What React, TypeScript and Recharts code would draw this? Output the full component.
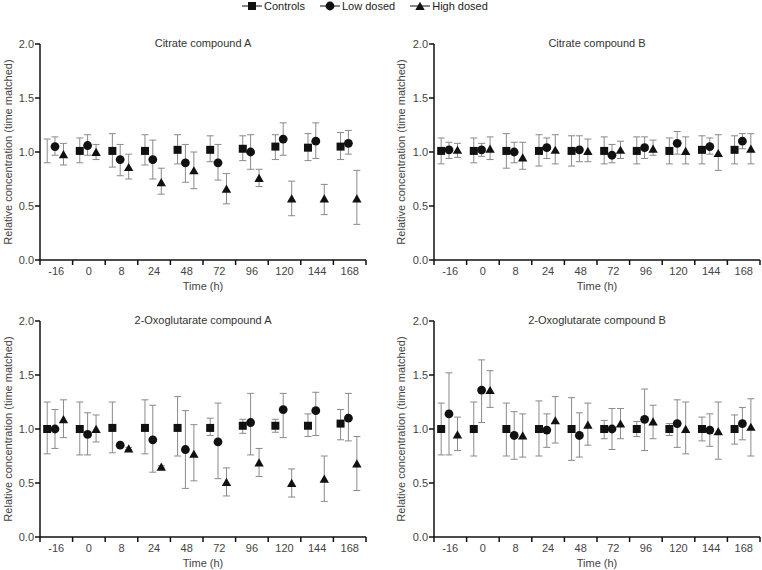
import { ScatterChart, Scatter, XAxis, YAxis, ErrorBar } from "recharts"

const FONT = "'Liberation Sans', Arial, sans-serif"

// time points (h) shown as categories
const timepoints = ["-16", "0", "8", "24", "48", "72", "96", "120", "144", "168"]
const yTicks = [0, 0.5, 1, 1.5, 2]

// Citrate compound A
const citrateA_ctrl = [1.01, 1.01, 1.01, 1.01, 1.02, 1.02, 1.03, 1.05, 1.04, 1.05]
const citrateA_ctrl_rng = [[0.9, 1.12], [0.9, 1.13], [0.86, 1.17], [0.88, 1.16], [0.89, 1.16], [0.91, 1.15], [0.92, 1.15], [0.93, 1.16], [0.92, 1.17], [0.93, 1.18]]
const citrateA_low = [1.05, 1.06, 0.93, 0.93, 0.9, 0.9, 1.0, 1.12, 1.1, 1.08]
const citrateA_low_rng = [[0.97, 1.14], [0.97, 1.16], [0.78, 1.07], [0.75, 1.11], [0.72, 1.07], [0.74, 1.07], [0.84, 1.16], [0.97, 1.27], [0.94, 1.27], [0.98, 1.2]]
const citrateA_high = [0.98, 1.0, 0.86, 0.72, 0.83, 0.66, 0.76, 0.57, 0.57, 0.57]
const citrateA_high_rng = [[0.88, 1.08], [0.93, 1.07], [0.75, 0.98], [0.61, 0.85], [0.66, 1.0], [0.52, 0.8], [0.68, 0.84], [0.41, 0.73], [0.42, 0.7], [0.33, 0.83]]

// Citrate compound B
const citrateB_ctrl = [1.01, 1.01, 1.01, 1.01, 1.01, 1.01, 1.01, 1.01, 1.02, 1.02]
const citrateB_ctrl_rng = [[0.89, 1.13], [0.9, 1.13], [0.85, 1.17], [0.87, 1.16], [0.87, 1.15], [0.89, 1.14], [0.89, 1.14], [0.89, 1.13], [0.89, 1.15], [0.89, 1.15]]
const citrateB_low = [1.02, 1.02, 1.0, 1.04, 1.02, 0.97, 1.04, 1.08, 1.05, 1.1]
const citrateB_low_rng = [[0.94, 1.09], [0.96, 1.08], [0.9, 1.09], [0.94, 1.13], [0.91, 1.15], [0.9, 1.07], [0.94, 1.14], [0.98, 1.19], [0.98, 1.13], [1.03, 1.17]]
const citrateB_high = [1.02, 1.03, 0.95, 1.02, 1.01, 1.02, 1.03, 1.01, 0.99, 1.03]
const citrateB_high_rng = [[0.95, 1.08], [0.93, 1.14], [0.84, 1.09], [0.89, 1.16], [0.91, 1.12], [0.94, 1.1], [0.97, 1.11], [0.89, 1.14], [0.83, 1.16], [0.89, 1.17]]

// 2-Oxoglutarate compound A
const oxoA_ctrl = [1.0, 1.0, 1.01, 1.01, 1.01, 1.01, 1.03, 1.03, 1.03, 1.05]
const oxoA_ctrl_rng = [[0.77, 1.25], [0.76, 1.25], [0.78, 1.25], [0.77, 1.27], [0.75, 1.3], [0.94, 1.1], [0.96, 1.09], [0.97, 1.09], [0.93, 1.14], [0.9, 1.18]]
const oxoA_low = [1.0, 0.95, 0.85, 0.9, 0.81, 0.88, 1.06, 1.18, 1.17, 1.1]
const oxoA_low_rng = [[0.82, 1.18], [0.76, 1.15], [0.84, 0.86], [0.6, 1.22], [0.45, 1.17], [0.54, 1.24], [0.76, 1.33], [0.92, 1.33], [0.94, 1.34], [0.89, 1.33]]
const oxoA_high = [1.09, 1.0, 0.82, 0.65, 0.77, 0.51, 0.69, 0.5, 0.54, 0.68]
const oxoA_high_rng = [[0.92, 1.27], [0.88, 1.13], [0.81, 0.83], [0.64, 0.66], [0.52, 1.04], [0.38, 0.64], [0.56, 0.82], [0.37, 0.63], [0.33, 0.75], [0.43, 0.93]]

// 2-Oxoglutarate compound B
const oxoB_ctrl = [1.0, 1.0, 1.0, 1.0, 1.0, 1.0, 1.0, 1.0, 1.0, 1.0]
const oxoB_ctrl_rng = [[0.76, 1.24], [0.75, 1.25], [0.75, 1.24], [0.75, 1.26], [0.71, 1.29], [0.91, 1.08], [0.93, 1.07], [0.94, 1.05], [0.89, 1.11], [0.86, 1.13]]
const oxoB_low = [1.14, 1.36, 0.94, 0.99, 0.94, 1.0, 1.09, 1.05, 0.99, 1.05]
const oxoB_low_rng = [[0.76, 1.52], [1.06, 1.64], [0.72, 1.16], [0.83, 1.14], [0.74, 1.15], [0.81, 1.19], [0.8, 1.37], [0.83, 1.27], [0.84, 1.14], [0.9, 1.2]]
const oxoB_high = [0.95, 1.36, 0.94, 1.08, 1.04, 1.05, 1.07, 1.0, 0.98, 1.02]
const oxoB_high_rng = [[0.8, 1.11], [1.2, 1.54], [0.74, 1.14], [0.87, 1.3], [0.85, 1.24], [0.91, 1.19], [0.91, 1.22], [0.77, 1.25], [0.72, 1.25], [0.75, 1.28]]

const SERIES = [
  { name: "Controls", shape: "square", shift: 0.22 },
  { name: "Low dosed", shape: "circle", shift: 0.46 },
  { name: "High dosed", shape: "triangle", shift: 0.72 },
]

const toPoints = (means: number[], rng: number[][], shift: number, hidden: number[]) =>
  means.map((m, i) => ({ x: i + shift, y: m, err: [m - rng[i][0], rng[i][1] - m], hidden: hidden.includes(i) }))

const PANELS = [
  {
    title: "Citrate compound A",
    data: [[citrateA_ctrl, citrateA_ctrl_rng], [citrateA_low, citrateA_low_rng], [citrateA_high, citrateA_high_rng]],
    // the -16 h control marker is not drawn in the original figure (only its error bar)
    hidden: [[0], [], []],
    left: 0, top: 30, yWidth: 40, margin: { top: 14, right: 15, bottom: 10, left: 0 }, labelOffset: 8,
  },
  {
    title: "Citrate compound B",
    data: [[citrateB_ctrl, citrateB_ctrl_rng], [citrateB_low, citrateB_low_rng], [citrateB_high, citrateB_high_rng]],
    hidden: [[], [], []],
    left: 381, top: 30, yWidth: 53, margin: { top: 14, right: 2, bottom: 10, left: 0 }, labelOffset: 20,
  },
  {
    title: "2-Oxoglutarate compound A",
    data: [[oxoA_ctrl, oxoA_ctrl_rng], [oxoA_low, oxoA_low_rng], [oxoA_high, oxoA_high_rng]],
    hidden: [[], [], []],
    left: 0, top: 300, yWidth: 40, margin: { top: 21, right: 15, bottom: 3, left: 0 }, labelOffset: 8,
  },
  {
    title: "2-Oxoglutarate compound B",
    data: [[oxoB_ctrl, oxoB_ctrl_rng], [oxoB_low, oxoB_low_rng], [oxoB_high, oxoB_high_rng]],
    hidden: [[], [], []],
    left: 381, top: 300, yWidth: 53, margin: { top: 21, right: 2, bottom: 3, left: 0 }, labelOffset: 20,
  },
]

const W = 381
const H = 270
const INK = "#111"
const TEXT = "#444"

function Marker({ kind, cx, cy }: { kind: string; cx: number; cy: number }) {
  if (kind === "square") return <rect x={cx - 4} y={cy - 4} width={8} height={8} fill={INK} />
  if (kind === "circle") return <circle cx={cx} cy={cy} r={4.4} fill={INK} />
  return <polygon points={`${cx - 4.7},${cy + 4} ${cx + 4.7},${cy + 4} ${cx},${cy - 4.2}`} fill={INK} />
}

function Panel({ p }: { p: (typeof PANELS)[number] }) {
  const plotW = W - p.margin.left - p.margin.right - p.yWidth
  const half = plotW / timepoints.length / 2

  const TimeTick = (props: any) => {
    const i = props.payload.value
    if (i >= timepoints.length) return null
    return (
      <text x={props.x + half} y={props.y} dy="0.71em" textAnchor="middle" fontSize={11} fill={TEXT}>
        {timepoints[i]}
      </text>
    )
  }

  return (
    <div style={{ position: "absolute", left: p.left, top: p.top, width: W, height: H }}>
      <ScatterChart width={W} height={H} margin={p.margin}>
        <XAxis
          type="number"
          dataKey="x"
          domain={[0, timepoints.length]}
          ticks={timepoints.map((_, i) => i).concat(timepoints.length)}
          interval={0}
          height={30}
          tickSize={5}
          tickMargin={2}
          axisLine={{ stroke: INK, strokeWidth: 1.5 }}
          tickLine={{ stroke: INK, strokeWidth: 1.5 }}
          tick={TimeTick}
          label={{ value: "Time (h)", position: "insideBottom", offset: 0, style: { fontSize: 11, fill: TEXT } }}
        />
        <YAxis
          type="number"
          dataKey="y"
          domain={[0, 2]}
          ticks={yTicks}
          width={p.yWidth}
          tickSize={5}
          tickMargin={1}
          tickFormatter={(v: number) => v.toFixed(1)}
          axisLine={{ stroke: INK, strokeWidth: 1.5 }}
          tickLine={{ stroke: INK, strokeWidth: 1.5 }}
          tick={{ fontSize: 11, fill: TEXT }}
          label={{
            value: "Relative concentration (time matched)",
            angle: -90,
            position: "insideLeft",
            offset: p.labelOffset,
            style: { textAnchor: "middle", fontSize: 11, fill: TEXT },
          }}
        />
        {SERIES.map((s, k) => (
          <Scatter
            key={s.name}
            name={s.name}
            data={toPoints(p.data[k][0] as number[], p.data[k][1] as number[][], s.shift, p.hidden[k])}
            isAnimationActive={false}
            shape={(props: any) =>
              props.payload?.hidden ? <g /> : <Marker kind={s.shape} cx={props.cx} cy={props.cy} />
            }
          >
            <ErrorBar dataKey="err" direction="y" width={3.5} stroke="#8a8a8a" strokeWidth={1} />
          </Scatter>
        ))}
      </ScatterChart>
      <div
        style={{
          position: "absolute",
          left: p.margin.left + p.yWidth + plotW / 2,
          top: p.margin.top - 7,
          transform: "translateX(-50%)",
          fontSize: 11,
          color: "#333",
          whiteSpace: "nowrap",
        }}
      >
        {p.title}
      </div>
    </div>
  )
}

function Legend() {
  return (
    <div style={{ position: "absolute", left: 242, top: 0, display: "flex", alignItems: "center", height: 12 }}>
      {SERIES.map((s) => (
        <div key={s.name} style={{ display: "flex", alignItems: "center", marginRight: 15 }}>
          <svg width={20} height={12}>
            <line x1={0} y1={6} x2={20} y2={6} stroke={INK} strokeWidth={1} />
            <Marker kind={s.shape} cx={10} cy={6} />
          </svg>
          <span style={{ fontSize: 11, color: "#222", marginLeft: 2 }}>{s.name}</span>
        </div>
      ))}
    </div>
  )
}

export default function App() {
  return (
    <div style={{ position: "absolute", left: 0, top: 0, width: 762, height: 570, background: "#fff", fontFamily: FONT }}>
      <Legend />
      {PANELS.map((p) => (
        <Panel key={p.title} p={p} />
      ))}
    </div>
  )
}
